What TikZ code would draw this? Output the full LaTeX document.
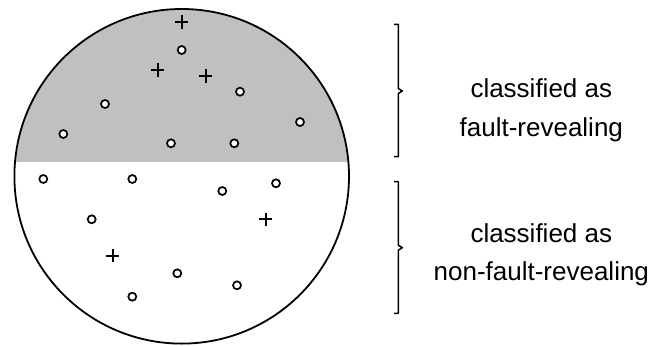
\documentclass[tikz,border=0pt]{standalone}
\usepackage{fontspec}
\setmainfont{Liberation Sans}
\definecolor{regiongray}{HTML}{C0C0C0}
\begin{document}
\begin{tikzpicture}[x=1pt,y=-1pt,
  dot/.style={circle,draw=black,fill=white,line width=1.7pt,minimum size=8pt,inner sep=0pt},
  plusmark/.style={minimum size=13pt,inner sep=0pt},
  plusline/.style={line width=1.8pt},
  lab/.style={font=\fontsize{26}{31}\selectfont,anchor=base,inner sep=0pt},
  bracestyle/.style={line width=1.5pt,line join=round}]
\useasboundingbox (0,0) rectangle (652,345);
% big circle
\coordinate (c) at (181.7,176.3);
\begin{scope}
  \clip (c) circle[radius=167.3];
  \fill[regiongray] (0,0) rectangle (360,162);
\end{scope}
\draw[line width=1.8pt] (c) circle[radius=167.3];
% plus marks
\node[plusmark] (p1) at (181.7,22) {};
\node[plusmark] (p2) at (157.7,70) {};
\node[plusmark] (p3) at (205.7,76) {};
\node[plusmark] (p4) at (265.7,219.3) {};
\node[plusmark] (p5) at (112.7,255.7) {};
\foreach \n in {p1,p2,p3,p4,p5}
  \draw[plusline] (\n.west) -- (\n.east) (\n.north) -- (\n.south);
% dots, upper part
\node[dot] (d1) at (181.7,50) {};
\node[dot] (d2) at (240,91.7) {};
\node[dot] (d3) at (105,104) {};
\node[dot] (d4) at (63.3,134) {};
\node[dot] (d5) at (300,122) {};
\node[dot] (d6) at (171,143.3) {};
\node[dot] (d7) at (234.3,143.3) {};
% dots, lower part
\node[dot] (d8) at (43.3,179) {};
\node[dot] (d9) at (132.3,179) {};
\node[dot] (d10) at (276,183.3) {};
\node[dot] (d11) at (222.3,191) {};
\node[dot] (d12) at (91.7,219.3) {};
\node[dot] (d13) at (177.3,273.3) {};
\node[dot] (d14) at (237,285.3) {};
\node[dot] (d15) at (132.3,296.7) {};
% braces
\draw[bracestyle] (394,24.3) -- (398.3,24.3) -- (398.3,88.5) -- (402.3,91) -- (398.3,93.5) -- (398.3,156.7) -- (394,156.7);
\draw[bracestyle] (394,181.7) -- (398.3,181.7) -- (398.3,245.2) -- (402.3,247.7) -- (398.3,250.2) -- (398.3,313.3) -- (394,313.3);
% labels
\node[lab] (t1) at (541.3,97.3) {classified as};
\node[lab] (t2) at (541.3,136) {fault-revealing};
\node[lab] (t3) at (541.3,242.3) {classified as};
\node[lab] (t4) at (541.3,280.5) {non-fault-revealing};
\end{tikzpicture}
\end{document}
